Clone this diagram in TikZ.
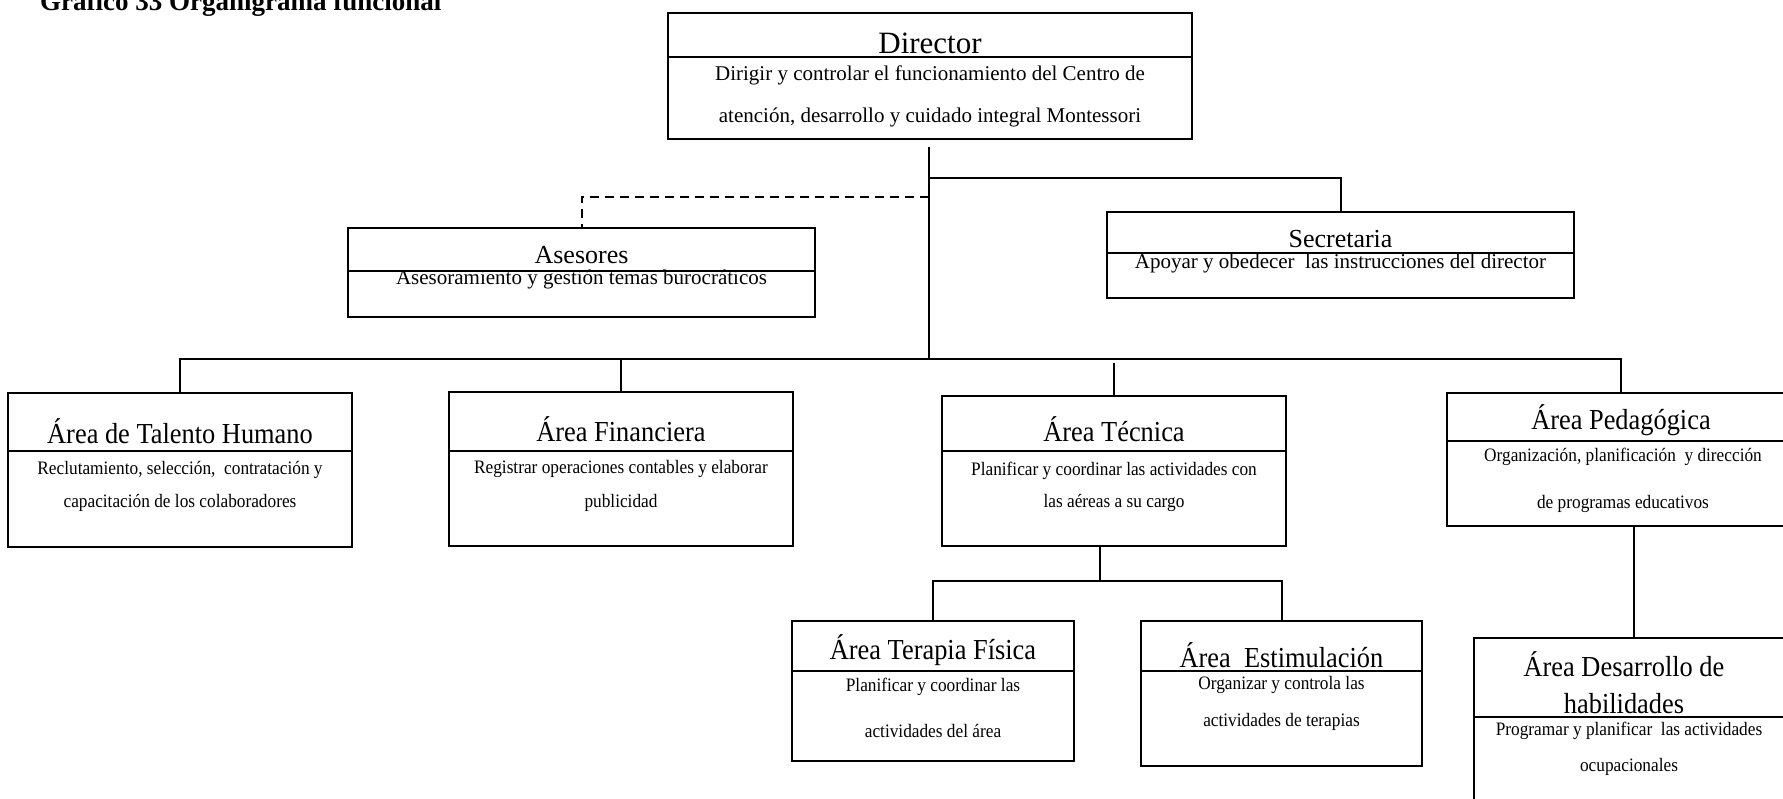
\documentclass[tikz,border=0pt]{standalone}
\usepackage{fontspec}
\setmainfont{Liberation Serif}
\newfontfamily\condserif{Liberation Serif}[FakeStretch=0.91]
\begin{document}
\begin{tikzpicture}[x=1pt,y=-1pt,
  box/.style={draw, line width=2pt, inner sep=0pt, minimum width=#1},
  conn/.style={line width=2pt},
  dashconn/.style={line width=2pt, dash pattern=on 9pt off 6pt},
  txt/.style={inner sep=0pt, anchor=base},
  dtitle/.style={txt, font=\fontsize{31}{31}\selectfont},
  dsub/.style={txt, font=\fontsize{21}{21}\selectfont},
  mtitle/.style={txt, font=\fontsize{26}{26}\selectfont},
  ltitle/.style={txt, font=\condserif\fontsize{29}{29}\selectfont},
  lsub/.style={txt, font=\condserif\fontsize{19}{19}\selectfont},
  head/.style={txt, anchor=base west, font=\bfseries\fontsize{27}{27}\selectfont}
]
\useasboundingbox (0,0) rectangle (1783,799);
\clip (0,0) rectangle (1783,799);

% title
\node[head] (head) at (40,11) {Gráfico 33 Organigrama funcional};

% boxes
\node[box=524pt, minimum height=126pt] (dir) at (930,76) {};
\node[box=467pt, minimum height=89pt] (ase) at (581.5,272.5) {};
\node[box=467pt, minimum height=86pt] (sec) at (1340.5,255) {};
\node[box=344pt, minimum height=154pt] (tal) at (180,470) {};
\node[box=344pt, minimum height=154pt] (fin) at (621,469) {};
\node[box=344pt, minimum height=150pt] (tec) at (1114,471) {};
\node[box=348pt, minimum height=133pt] (ped) at (1621,459.5) {};
\node[box=282pt, minimum height=140pt] (ter) at (933,691) {};
\node[box=281pt, minimum height=145pt] (est) at (1281.5,693.5) {};
\node[box=316pt, minimum height=192pt] (des) at (1632,734) {};

% dividers
\draw[conn] (dir.west |- 0,57) -- (dir.east |- 0,57);
\draw[conn] (ase.west |- 0,271) -- (ase.east |- 0,271);
\draw[conn] (sec.west |- 0,253) -- (sec.east |- 0,253);
\draw[conn] (tal.west |- 0,451) -- (tal.east |- 0,451);
\draw[conn] (fin.west |- 0,451) -- (fin.east |- 0,451);
\draw[conn] (tec.west |- 0,451) -- (tec.east |- 0,451);
\draw[conn] (ped.west |- 0,441) -- (ped.east |- 0,441);
\draw[conn] (ter.west |- 0,671) -- (ter.east |- 0,671);
\draw[conn] (est.west |- 0,671) -- (est.east |- 0,671);
\draw[conn] (des.west |- 0,717) -- (des.east |- 0,717);

% texts
\node[dtitle] (dirT) at (930,54) {Director};
\node[dsub] (dirS1) at (930,81) {Dirigir y controlar el funcionamiento del Centro de};
\node[dsub] (dirS2) at (930,123) {atención, desarrollo y cuidado integral Montessori};

\node[mtitle] (aseT) at (581.5,264) {Asesores};
\node[dsub] (aseS) at (581.5,285) {Asesoramiento y gestión temas burocráticos};

\node[mtitle] (secT) at (1340.5,248) {Secretaria};
\node[dsub] (secS) at (1340.5,269) {Apoyar y obedecer\ \ las instrucciones del director};

\node[ltitle] (talT) at (180,443) {Área de Talento Humano};
\node[lsub] (talS1) at (180,474) {Reclutamiento, selección,\ \ contratación y};
\node[lsub] (talS2) at (180,507) {capacitación de los colaboradores};

\node[ltitle] (finT) at (621,441) {Área Financiera};
\node[lsub] (finS1) at (621,473) {Registrar operaciones contables y elaborar};
\node[lsub] (finS2) at (621,507) {publicidad};

\node[ltitle] (tecT) at (1114,442) {Área Técnica};
\node[lsub] (tecS1) at (1114,475) {Planificar y coordinar las actividades con};
\node[lsub] (tecS2) at (1114,507) {las aéreas a su cargo};

\node[ltitle] (pedT) at (1621,429) {Área Pedagógica};
\node[lsub] (pedS1) at (1623,461) {Organización, planificación\ \ y dirección};
\node[lsub] (pedS2) at (1623,508) {de programas educativos};

\node[ltitle] (terT) at (933,659) {Área Terapia Física};
\node[lsub] (terS1) at (933,691) {Planificar y coordinar las};
\node[lsub] (terS2) at (933,737) {actividades del área};

\node[ltitle] (estT) at (1281.5,667) {Área\ \ Estimulación};
\node[lsub] (estS1) at (1281.5,689) {Organizar y controla las};
\node[lsub] (estS2) at (1281.5,726) {actividades de terapias};

\node[ltitle] (desT1) at (1624,676) {Área Desarrollo de};
\node[ltitle] (desT2) at (1624,713) {habilidades};
\node[lsub] (desS1) at (1629,735) {Programar y planificar\ \ las actividades};
\node[lsub] (desS2) at (1629,771) {ocupacionales};

% connector coordinates
\coordinate (trunk) at (929,147);
\coordinate (bus) at (929,359);
\coordinate (secj) at (929,178);
\coordinate (asej) at (929,197);
\coordinate (tecj) at (1114,363);
\coordinate (tecb) at (1100,581);
\coordinate (desj) at (1634,600);

% connectors
\draw[conn] (trunk) -- (bus);
\draw[conn] (secj) -| (sec.north);
\draw[dashconn] (asej) -| (ase.north);
\draw[conn] (tal.north) |- (bus) -| (ped.north);
\draw[conn] (fin.north) -- (fin.north |- bus);
\draw[conn] (tecj) -- (tec.north);
\draw[conn] (tec.south -| tecb) -- (tecb);
\draw[conn] (ter.north) |- (tecb) -| (est.north);
\draw[conn] (ped.south -| desj) -- (des.north -| desj);
\end{tikzpicture}
\end{document}
